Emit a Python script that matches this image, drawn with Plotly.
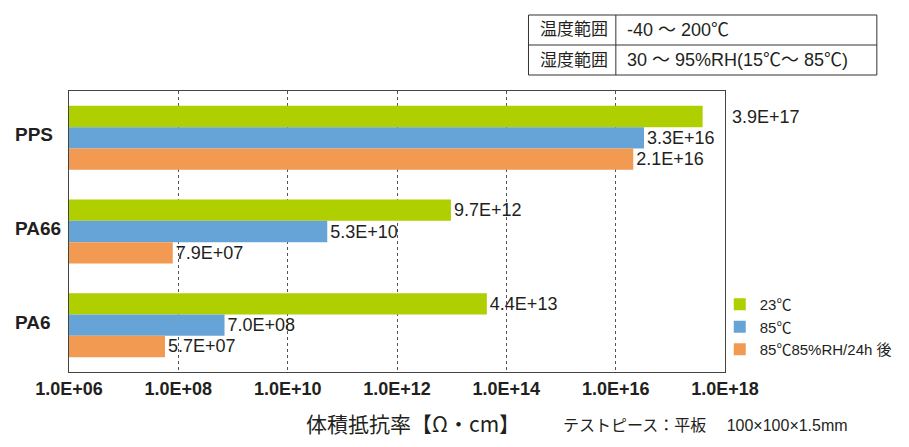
import numpy as np
import plotly.graph_objects as go

# data
materials = ["PPS", "PA66", "PA6"]
series_names = ["23℃", "85℃", "85℃85%RH/24h 後"]
vals_23c = [3.9e17, 9.7e12, 4.4e13]
vals_85c = [3.3e16, 5.3e10, 7.0e08]
vals_85rh = [2.1e16, 7.9e07, 5.7e07]
colors = ["#b0cf00", "#66a3d6", "#f39a52"]

tick_exp = [6, 8, 10, 12, 14, 16, 18]
tick_text = ["1.0E+06", "1.0E+08", "1.0E+10", "1.0E+12", "1.0E+14", "1.0E+16", "1.0E+18"]

table_rows = [["温度範囲", "-40 ～ 200℃"],
              ["湿度範囲", "30 ～ 95%RH(15℃～ 85℃)"]]

x_title = "体積抵抗率【Ω・cm】"
note = "テストピース：平板　 100×100×1.5mm"

TXT = "#231f20"
FONT = "Liberation Sans, Noto Sans CJK JP, sans-serif"

# page geometry (px); the html body adds an 8px margin around the figure
PAGE_W, PAGE_H, OFF = 909, 447, 8
L, R, T, B = 69, 179, 91, 75
pw, ph = PAGE_W - L - R, PAGE_H - T - B
bargap = 0.317
bar_px = (1 - bargap) * ph / len(materials) / 3


def px(x):
    return (x - L) / pw


def py(y):
    return (PAGE_H - B - y) / ph


fig = go.Figure()

all_vals = [vals_23c, vals_85c, vals_85rh]
for name, vals, c in zip(series_names, all_vals, colors):
    labels = [f"{v:.1E}" for v in vals]
    # the top PPS label sits outside the frame, drawn as annotation below
    if vals is vals_23c:
        labels[0] = ""
    fig.add_trace(go.Bar(y=materials, x=vals, orientation="h", name=name,
                         marker_color=c, marker_line_width=0,
                         text=labels, textposition="outside",
                         constraintext="none", cliponaxis=False,
                         textfont=dict(size=18, color=TXT, family=FONT)))

fig.add_annotation(x=np.log10(vals_23c[0]), y=materials[0], xref="x", yref="y",
                   text=f"{vals_23c[0]:.1E}", showarrow=False,
                   xanchor="left", yanchor="middle",
                   xshift=27, yshift=bar_px,
                   font=dict(size=18, color=TXT, family=FONT))

# category labels, left aligned
for m in materials:
    fig.add_annotation(x=px(13), y=m, xref="paper", yref="y", text=f"<b>{m}</b>",
                       showarrow=False, xanchor="left", yanchor="middle", yshift=3,
                       font=dict(size=19, color=TXT, family="Liberation Sans"))

# axis title + note
fig.add_annotation(x=px(416), y=py(423), xref="paper", yref="paper",
                   text=x_title, showarrow=False, xanchor="center", yanchor="middle",
                   font=dict(size=21, color=TXT, family="Noto Sans CJK JP"))
fig.add_annotation(x=px(565), y=py(425), xref="paper", yref="paper",
                   text=note, showarrow=False, xanchor="left", yanchor="middle",
                   font=dict(size=16, color=TXT, family=FONT))

# condition table
tx0, tx1, tcol = 532, 883, 620
ty0, tmid, ty1 = 15, 45, 75
line = dict(color="#333333", width=1)
fig.add_shape(type="rect", xref="paper", yref="paper", x0=px(tx0), x1=px(tx1),
              y0=py(ty1), y1=py(ty0), line=line)
fig.add_shape(type="line", xref="paper", yref="paper", x0=px(tx0), x1=px(tx1),
              y0=py(tmid), y1=py(tmid), line=line)
fig.add_shape(type="line", xref="paper", yref="paper", x0=px(tcol), x1=px(tcol),
              y0=py(ty1), y1=py(ty0), line=line)
for i, (k, v) in enumerate(table_rows):
    yc = py((ty0 + tmid) / 2 if i == 0 else (tmid + ty1) / 2)
    fig.add_annotation(x=px(tx0 + 10), y=yc, xref="paper", yref="paper", text=k,
                       showarrow=False, xanchor="left", yanchor="middle",
                       font=dict(size=17, color=TXT, family=FONT))
    fig.add_annotation(x=px(tcol + 9), y=yc, xref="paper", yref="paper", text=v,
                       showarrow=False, xanchor="left", yanchor="middle",
                       font=dict(size=18, color=TXT, family=FONT))

fig.update_layout(
    width=PAGE_W - OFF, height=PAGE_H - OFF,
    margin=dict(l=L - OFF, r=R, t=T - OFF, b=B),
    paper_bgcolor="white", plot_bgcolor="white",
    barmode="group", bargap=bargap, bargroupgap=0,
    showlegend=True,
    legend=dict(x=0.992, y=py(288), xanchor="left", yanchor="top",
                traceorder="normal", bgcolor="rgba(0,0,0,0)",
                font=dict(size=15, color=TXT, family=FONT),
                itemwidth=30, tracegroupgap=0),
)
fig.update_xaxes(type="log", range=[tick_exp[0], tick_exp[-1]],
                 tickvals=[10.0 ** e for e in tick_exp], ticktext=tick_text,
                 showgrid=True, gridcolor="#555555", griddash="dot", gridwidth=1,
                 showline=True, mirror=True, linecolor="#444444", linewidth=1,
                 ticks="", zeroline=False, automargin=False,
                 tickfont=dict(size=18, color=TXT, family="Liberation Sans", weight="bold"))
fig.update_yaxes(autorange="reversed", showticklabels=False, showgrid=False,
                 showline=True, mirror=True, linecolor="#444444", linewidth=1,
                 ticks="", automargin=False)

fig.write_html("out.html")
